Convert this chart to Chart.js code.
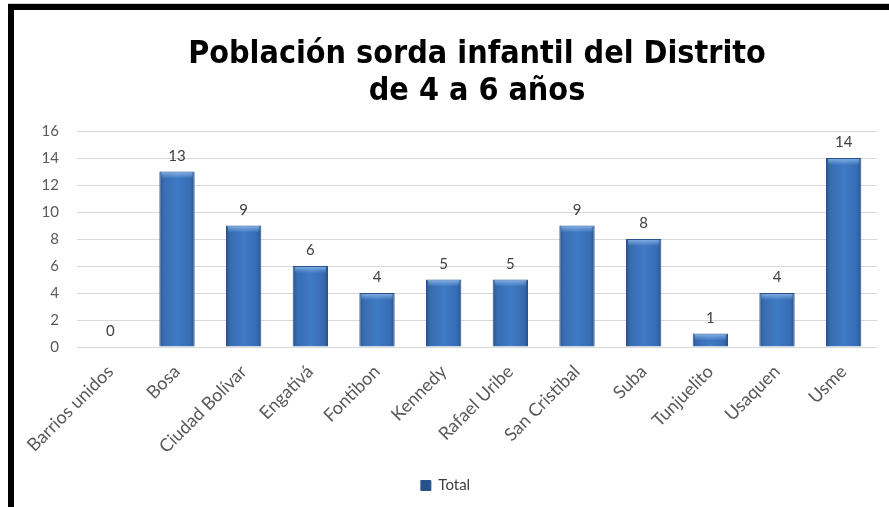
<!DOCTYPE html>
<html>
<head>
<meta charset="utf-8">
<script src="https://cdn.jsdelivr.net/npm/chart.js@4/dist/chart.umd.min.js"></script>
<style>
  html, body { margin: 0; padding: 0; background: #fff; }
  #frame {
    position: absolute; left: 8px; top: 4px; width: 881px; height: 503px;
    border-top: 6px solid #000; border-left: 6px solid #000;
    box-shadow: 0 -1px 0 #cfcfcf;
    box-sizing: border-box;
  }
  #wrap { position: absolute; left: 0; top: 0; width: 875px; height: 497px; }
</style>
</head>
<body>
<div id="frame"><div id="wrap"><canvas id="myChart"></canvas></div></div>
<script>
// chart data
var titleLines = ['Población sorda infantil del Distrito', 'de 4 a 6 años'];
var districts = ['Barrios unidos', 'Bosa', 'Ciudad Bolívar', 'Engativá', 'Fontibon', 'Kennedy',
                 'Rafael Uribe', 'San Cristibal', 'Suba', 'Tunjuelito', 'Usaquen', 'Usme'];
var totals = [0, 13, 9, 6, 4, 5, 5, 9, 8, 1, 4, 14];
var seriesName = 'Total';
var yTicks = [0, 2, 4, 6, 8, 10, 12, 14, 16];

var barPct = 0.53;

// blue bar with darker sides, like the office 3d-ish look
function barFill(ctx) {
  var chart = ctx.chart;
  var xs = chart.scales.x;
  if (!xs || !chart.chartArea || ctx.dataIndex === undefined) return '#3A70B8';
  var cx = xs.getPixelForValue(ctx.dataIndex);
  var w = (xs.width / districts.length) * barPct;
  var g = chart.ctx.createLinearGradient(cx - w / 2, 0, cx + w / 2, 0);
  g.addColorStop(0, '#29528A');
  g.addColorStop(0.12, '#376CB3');
  g.addColorStop(0.5, '#3F7AC5');
  g.addColorStop(0.88, '#376CB3');
  g.addColorStop(1, '#29528A');
  return g;
}

// title centered over the plot area
const titlePlugin = {
  id: 'plotTitle',
  afterDraw(chart) {
    const c = chart.ctx;
    const mid = (chart.chartArea.left + chart.chartArea.right) / 2;
    c.save();
    c.fillStyle = '#000';
    c.font = 'bold 32px "DejaVu Sans Condensed", "DejaVu Sans", sans-serif';
    c.textAlign = 'center';
    c.textBaseline = 'middle';
    c.fillText(titleLines[0], mid, 45);
    c.fillText(titleLines[1], mid, 82);
    c.restore();
  }
};

// value labels + top highlight on bars
const valuePlugin = {
  id: 'valueLabels',
  afterDatasetsDraw(chart) {
    const c = chart.ctx;
    const meta = chart.getDatasetMeta(0);
    c.save();
    meta.data.forEach(function(bar, i) {
      if (totals[i] > 0) {
        var hw = bar.width / 2;
        var g = c.createLinearGradient(0, bar.y, 0, bar.y + 7);
        g.addColorStop(0, 'rgba(160,200,245,0.75)');
        g.addColorStop(1, 'rgba(160,200,245,0)');
        c.fillStyle = g;
        c.fillRect(bar.x - hw + 2, bar.y + 1, bar.width - 4, 6);
      }
      c.fillStyle = '#404040';
      c.font = '15px Lato, "Open Sans", sans-serif';
      c.textAlign = 'center';
      c.textBaseline = 'bottom';
      c.fillText(String(totals[i]), bar.x, bar.y - 8);
    });
    c.restore();
  }
};

const config = {
  type: 'bar',
  data: {
    labels: districts,
    datasets: [{
      label: seriesName,
      data: totals,
      backgroundColor: barFill,
      borderColor: '#2A538C',
      borderWidth: 1,
      categoryPercentage: 1,
      barPercentage: barPct
    }]
  },
  options: {
    responsive: true,
    maintainAspectRatio: false,
    animation: false,
    layout: { padding: { top: 121, right: 12, bottom: 4, left: 0 } },
    plugins: {
      title: { display: false },
      tooltip: { enabled: false },
      legend: {
        position: 'bottom',
        labels: {
          boxWidth: 10, boxHeight: 10,
          color: '#404040',
          font: { family: 'Lato, "Open Sans", sans-serif', size: 15 },
          padding: 10
        }
      }
    },
    scales: {
      x: {
        grid: { display: false },
        border: { display: false },
        ticks: {
          color: '#595959',
          font: { family: 'Lato, "Open Sans", sans-serif', size: 18 },
          minRotation: 45, maxRotation: 45,
          padding: 6,
          autoSkip: false
        },
        afterFit: function(s) { s.height = 121; }
      },
      y: {
        min: 0, max: 16,
        afterBuildTicks: function(s) { s.ticks = yTicks.map(function(v) { return { value: v }; }); },
        grid: { color: '#D9D9D9', drawTicks: false },
        border: { display: false },
        ticks: {
          color: '#595959',
          font: { family: 'Lato, "Open Sans", sans-serif', size: 15 },
          padding: 18
        },
        afterFit: function(s) { s.width = 63; }
      }
    }
  },
  plugins: [titlePlugin, valuePlugin]
};

const myChart = new Chart(document.getElementById('myChart'), config);
</script>
</body>
</html>
